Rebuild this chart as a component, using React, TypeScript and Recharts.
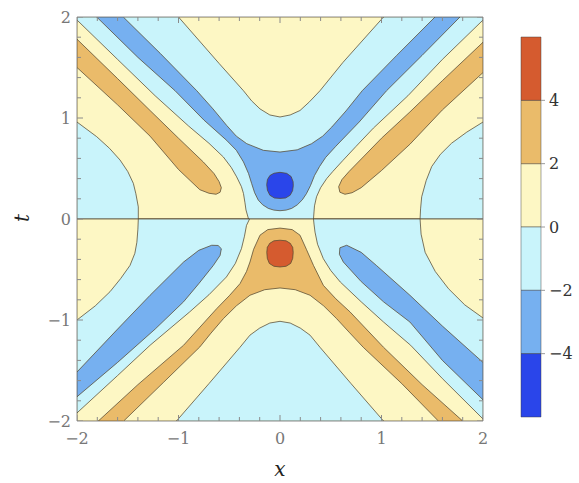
import React from 'react';
import {
  ScatterChart,
  Scatter,
  XAxis,
  YAxis,
  ReferenceArea,
  BarChart,
  Bar
} from 'recharts';

// contour level colours, low to high
const DARK_BLUE = '#2a45ea';
const BLUE = '#76b0f0';
const CYAN = '#c9f4fb';
const YELLOW = '#fdf7c4';
const ORANGE = '#eabb6a';
const RED = '#d55b2f';
const LINE = 'rgba(85,72,48,0.75)';
const SERIF = "'DejaVu Serif', serif";

const AXIS_TICKS = [-2, -1, 0, 1, 2];
const EDGE_TICKS = [-2, -1.8, -1.6, -1.4, -1.2, -1, -0.8, -0.6, -0.4, -0.2, 0, 0.2, 0.4, 0.6, 0.8, 1, 1.2, 1.4, 1.6, 1.8, 2];
const BAR_TICKS = [-4, -2, 0, 2, 4];

// contour regions, [x, t] outlines (t > 0 half)
const upperBase = [[-2, 0], [2, 0], [2, 2], [-2, 2]];
const upperTopYellow = [[-1.0, 2], [-0.6, 1.54], [-0.36, 1.27], [-0.28, 1.17], [-0.197, 1.09], [-0.1, 1.03], [0, 1.01], [0.1, 1.03], [0.197, 1.074], [0.29, 1.16], [0.394, 1.27], [0.62, 1.55], [1.02, 2]];
const upperLeftYellow = [[-2, 1.97], [-1.6, 1.58], [-1.23, 1.22], [-0.9, 0.92], [-0.7, 0.75], [-0.558, 0.614], [-0.48, 0.51], [-0.427, 0.417], [-0.38, 0.32], [-0.36, 0.253], [-0.345, 0.16], [-0.335, 0.089], [-0.31, 0], [-1.396, 0], [-1.396, 0.12], [-1.42, 0.25], [-1.445, 0.353], [-1.5, 0.47], [-1.576, 0.584], [-1.68, 0.7], [-1.806, 0.815], [-2, 0.96]];
const upperRightYellow = [[2, 1.97], [1.6, 1.58], [1.26, 1.22], [0.92, 0.9], [0.75, 0.72], [0.62, 0.58], [0.52, 0.47], [0.46, 0.4], [0.4, 0.31], [0.36, 0.22], [0.34, 0.13], [0.335, 0.07], [0.33, 0], [1.38, 0], [1.385, 0.1], [1.396, 0.22], [1.44, 0.38], [1.495, 0.52], [1.58, 0.64], [1.69, 0.75], [1.84, 0.86], [2, 0.96]];
const upperLeftOrange = [[-2, 1.78], [-1.6, 1.39], [-1.28, 1.074], [-1.0, 0.8], [-0.756, 0.565], [-0.65, 0.45], [-0.6, 0.37], [-0.578, 0.31], [-0.59, 0.265], [-0.63, 0.245], [-0.7, 0.255], [-0.79, 0.29], [-1.0, 0.49], [-1.28, 0.82], [-1.6, 1.13], [-2, 1.5]];
const upperRightOrange = [[2, 1.75], [1.6, 1.37], [1.28, 1.06], [1.0, 0.8], [0.82, 0.614], [0.68, 0.47], [0.61, 0.39], [0.578, 0.32], [0.59, 0.265], [0.64, 0.245], [0.71, 0.26], [0.8, 0.31], [1.0, 0.48], [1.28, 0.74], [1.6, 1.08], [2, 1.45]];
const upperBlue = [[-1.806, 2], [-1.4, 1.6], [-1.034, 1.27], [-0.75, 0.98], [-0.525, 0.778], [-0.43, 0.68], [-0.36, 0.565], [-0.31, 0.45], [-0.279, 0.35], [-0.25, 0.26], [-0.214, 0.187], [-0.17, 0.14], [-0.115, 0.105], [-0.06, 0.088], [0, 0.082], [0.06, 0.088], [0.115, 0.105], [0.17, 0.14], [0.22, 0.19], [0.26, 0.25], [0.3, 0.33], [0.34, 0.43], [0.39, 0.52], [0.45, 0.61], [0.55, 0.72], [0.78, 0.96], [1.05, 1.27], [1.4, 1.62], [1.773, 2], [1.527, 2], [1.15, 1.62], [0.81, 1.27], [0.65, 1.07], [0.51, 0.91], [0.42, 0.82], [0.31, 0.745], [0.17, 0.685], [0, 0.663], [-0.164, 0.68], [-0.328, 0.746], [-0.43, 0.82], [-0.525, 0.926], [-0.66, 1.09], [-0.82, 1.27], [-1.18, 1.64], [-1.544, 2]];
const upperDarkBlue = [[0, 0.462], [0.066, 0.452], [0.11, 0.42], [0.129, 0.37], [0.131, 0.33], [0.124, 0.28], [0.1, 0.235], [0.055, 0.208], [0, 0.204], [-0.055, 0.208], [-0.1, 0.235], [-0.124, 0.285], [-0.131, 0.34], [-0.124, 0.39], [-0.1, 0.43], [-0.06, 0.453]];

// t < 0 half
const lowerBase = [[-2, -2], [2, -2], [2, 0], [-2, 0]];
const lowerBottomCyan = [[-1.02, -2], [-0.7, -1.63], [-0.394, -1.27], [-0.296, -1.15], [-0.2, -1.08], [-0.1, -1.03], [0, -1.013], [0.1, -1.03], [0.2, -1.08], [0.296, -1.15], [0.394, -1.27], [0.7, -1.63], [1.02, -2]];
const lowerLeftCyan = [[-1.396, 0], [-0.3, 0], [-0.33, -0.063], [-0.35, -0.17], [-0.38, -0.294], [-0.44, -0.44], [-0.528, -0.574], [-0.7, -0.75], [-0.89, -0.92], [-1.28, -1.25], [-1.6, -1.55], [-2, -1.92], [-2, -1.0], [-1.82, -0.86], [-1.675, -0.72], [-1.57, -0.59], [-1.478, -0.46], [-1.43, -0.34], [-1.41, -0.23], [-1.4, -0.1]];
const lowerRightCyan = [[0.33, 0], [1.38, 0], [1.39, -0.15], [1.43, -0.33], [1.53, -0.52], [1.66, -0.69], [1.82, -0.85], [2, -0.98], [2, -1.98], [1.6, -1.58], [1.287, -1.25], [1.02, -1.02], [0.8, -0.82], [0.594, -0.624], [0.5, -0.51], [0.427, -0.393], [0.37, -0.25], [0.345, -0.13], [0.335, -0.05]];
const lowerLeftBlue = [[-2, -1.515], [-1.6, -1.09], [-1.28, -0.755], [-0.95, -0.426], [-0.8, -0.31], [-0.673, -0.26], [-0.61, -0.262], [-0.578, -0.294], [-0.59, -0.36], [-0.657, -0.46], [-0.8, -0.64], [-0.95, -0.82], [-1.23, -1.09], [-1.6, -1.42], [-2, -1.76]];
const lowerRightBlue = [[0.657, -0.26], [0.8, -0.33], [0.95, -0.46], [1.28, -0.755], [1.6, -1.06], [2, -1.42], [2, -1.79], [1.6, -1.4], [1.28, -1.02], [1.02, -0.82], [0.8, -0.62], [0.624, -0.426], [0.585, -0.35], [0.59, -0.285]];
const lowerOrange = [[-1.79, -2], [-1.4, -1.64], [-0.95, -1.25], [-0.624, -0.888], [-0.5, -0.76], [-0.394, -0.64], [-0.33, -0.52], [-0.296, -0.426], [-0.26, -0.3], [-0.197, -0.16], [-0.12, -0.105], [0, -0.09], [0.12, -0.105], [0.197, -0.16], [0.26, -0.3], [0.33, -0.46], [0.427, -0.657], [0.55, -0.79], [0.69, -0.92], [1.02, -1.27], [1.4, -1.64], [1.8, -2], [1.56, -2], [1.2, -1.63], [0.82, -1.27], [0.68, -1.12], [0.558, -0.987], [0.43, -0.86], [0.296, -0.755], [0.15, -0.7], [0, -0.683], [-0.15, -0.7], [-0.296, -0.755], [-0.43, -0.86], [-0.558, -0.987], [-0.68, -1.13], [-0.79, -1.267], [-1.15, -1.62], [-1.54, -2]];
const lowerRed = [[0, -0.21], [0.06, -0.216], [0.1, -0.24], [0.125, -0.28], [0.13, -0.33], [0.125, -0.39], [0.105, -0.44], [0.06, -0.468], [0, -0.475], [-0.06, -0.468], [-0.105, -0.44], [-0.125, -0.39], [-0.13, -0.33], [-0.125, -0.28], [-0.1, -0.24], [-0.06, -0.216]];

// colour bar: one stacked column, each band 2 units
const barRow = [{ k: 'c', y0: 2, y1: 2, y2: 2, n0: -2, n1: -2, n2: -2 }];

const layers: { id: string; pts: number[][]; fill: string }[] = [
  { id: 'ub', pts: upperBase, fill: CYAN },
  { id: 'uty', pts: upperTopYellow, fill: YELLOW },
  { id: 'uly', pts: upperLeftYellow, fill: YELLOW },
  { id: 'ury', pts: upperRightYellow, fill: YELLOW },
  { id: 'ulo', pts: upperLeftOrange, fill: ORANGE },
  { id: 'uro', pts: upperRightOrange, fill: ORANGE },
  { id: 'ubl', pts: upperBlue, fill: BLUE },
  { id: 'udb', pts: upperDarkBlue, fill: DARK_BLUE },
  { id: 'lb', pts: lowerBase, fill: YELLOW },
  { id: 'lbc', pts: lowerBottomCyan, fill: CYAN },
  { id: 'llc', pts: lowerLeftCyan, fill: CYAN },
  { id: 'lrc', pts: lowerRightCyan, fill: CYAN },
  { id: 'llb', pts: lowerLeftBlue, fill: BLUE },
  { id: 'lrb', pts: lowerRightBlue, fill: BLUE },
  { id: 'lo', pts: lowerOrange, fill: ORANGE },
  { id: 'lr', pts: lowerRed, fill: RED }
];

const fmt = (v: number) => (v < 0 ? `\u2212${-v}` : `${v}`);

const noDot = () => <g />;

const region = (fill: string) => (props: any) => {
  const pts = (props.points || []).filter((p: any) => p.x != null && p.y != null);
  if (!pts.length) return <g />;
  const d = pts.map((p: any, i: number) => `${i ? 'L' : 'M'}${p.x},${p.y}`).join('') + 'Z';
  return <path d={d} fill={fill} stroke={LINE} strokeWidth={1} strokeLinejoin="round" />;
};

const isMajor = (v: number) => Math.abs(v - Math.round(v)) < 1e-6;

const tickMark = (dx: number, dy: number, key: 'x' | 't') => (props: any) => {
  const { cx, cy, payload } = props;
  const len = isMajor(payload[key]) ? 6 : 4;
  return <line x1={cx} y1={cy} x2={cx + dx * len} y2={cy + dy * len} stroke="#8a8a8a" strokeWidth={1} />;
};

const XTick = (props: any) => (
  <text x={props.x} y={props.y} dy="0.71em" textAnchor="middle" fill="#777" fontSize={16} fontFamily={SERIF}>
    {fmt(props.payload.value)}
  </text>
);

const YTick = (props: any) => (
  <text x={props.x} y={props.y} dy="0.36em" textAnchor="end" fill="#777" fontSize={16} fontFamily={SERIF}>
    {fmt(props.payload.value)}
  </text>
);

const BarTick = (props: any) => (
  <text x={props.x} y={props.y} dy="0.36em" textAnchor="start" fill="#333" fontSize={16} fontFamily={SERIF}>
    {fmt(props.payload.value)}
  </text>
);

const App: React.FC = () => {
  return (
    <div style={{ position: 'absolute', left: 0, top: 0, width: 579, height: 483, background: '#fff' }}>
      <div style={{ position: 'absolute', left: 0, top: 0 }}>
        <ScatterChart width={579} height={483} margin={{ top: 17, right: 96, bottom: 32, left: 37 }}>
          <XAxis
            type="number"
            dataKey="x"
            domain={[-2, 2]}
            allowDataOverflow
            ticks={AXIS_TICKS}
            tick={<XTick />}
            tickLine={false}
            axisLine={false}
            tickSize={6}
            tickMargin={6}
            height={30}
          />
          <YAxis
            type="number"
            dataKey="t"
            domain={[-2, 2]}
            allowDataOverflow
            ticks={AXIS_TICKS}
            tick={<YTick />}
            tickLine={false}
            axisLine={false}
            tickSize={6}
            tickMargin={0}
            width={40}
          />
          {layers.map(l => (
            <Scatter
              key={l.id}
              data={l.pts.map(([x, t]) => ({ x, t }))}
              line={region(l.fill)}
              shape={noDot}
              isAnimationActive={false}
            />
          ))}
          <Scatter data={EDGE_TICKS.map(x => ({ x, t: -2 }))} shape={tickMark(0, -1, 'x')} isAnimationActive={false} />
          <Scatter data={EDGE_TICKS.map(x => ({ x, t: 2 }))} shape={tickMark(0, 1, 'x')} isAnimationActive={false} />
          <Scatter data={EDGE_TICKS.map(t => ({ x: -2, t }))} shape={tickMark(1, 0, 't')} isAnimationActive={false} />
          <Scatter data={EDGE_TICKS.map(t => ({ x: 2, t }))} shape={tickMark(-1, 0, 't')} isAnimationActive={false} />
          <ReferenceArea x1={-2} x2={2} y1={-2} y2={2} fill="none" stroke="#8a8a8a" strokeWidth={1} />
        </ScatterChart>
      </div>

      <div style={{ position: 'absolute', left: 500, top: 0 }}>
        <BarChart width={79} height={483} data={barRow} stackOffset="sign" barCategoryGap={0}
          margin={{ top: 37, right: 0, bottom: 66, left: 21 }}>
          <XAxis dataKey="k" hide />
          <YAxis
            orientation="right"
            type="number"
            domain={[-6, 6]}
            ticks={BAR_TICKS}
            tick={<BarTick />}
            tickLine={{ stroke: '#999' }}
            axisLine={false}
            tickSize={4}
            tickMargin={4}
            width={38}
          />
          <Bar dataKey="y0" stackId="c" fill={YELLOW} stroke="rgba(60,60,60,0.45)" isAnimationActive={false} />
          <Bar dataKey="y1" stackId="c" fill={ORANGE} stroke="rgba(60,60,60,0.45)" isAnimationActive={false} />
          <Bar dataKey="y2" stackId="c" fill={RED} stroke="rgba(60,60,60,0.45)" isAnimationActive={false} />
          <Bar dataKey="n0" stackId="c" fill={CYAN} stroke="rgba(60,60,60,0.45)" isAnimationActive={false} />
          <Bar dataKey="n1" stackId="c" fill={BLUE} stroke="rgba(60,60,60,0.45)" isAnimationActive={false} />
          <Bar dataKey="n2" stackId="c" fill={DARK_BLUE} stroke="rgba(60,60,60,0.45)" isAnimationActive={false} />
        </BarChart>
      </div>

      <svg width={579} height={483} style={{ position: 'absolute', left: 0, top: 0, pointerEvents: 'none' }}>
        <text x={280} y={476} textAnchor="middle" fontFamily={SERIF} fontStyle="italic" fontSize={20} fill="#222">x</text>
        <text x={29} y={218} textAnchor="middle" fontFamily={SERIF} fontStyle="italic" fontSize={20} fill="#222" transform="rotate(-90 29 218)">t</text>
      </svg>
    </div>
  );
};

export default App;
